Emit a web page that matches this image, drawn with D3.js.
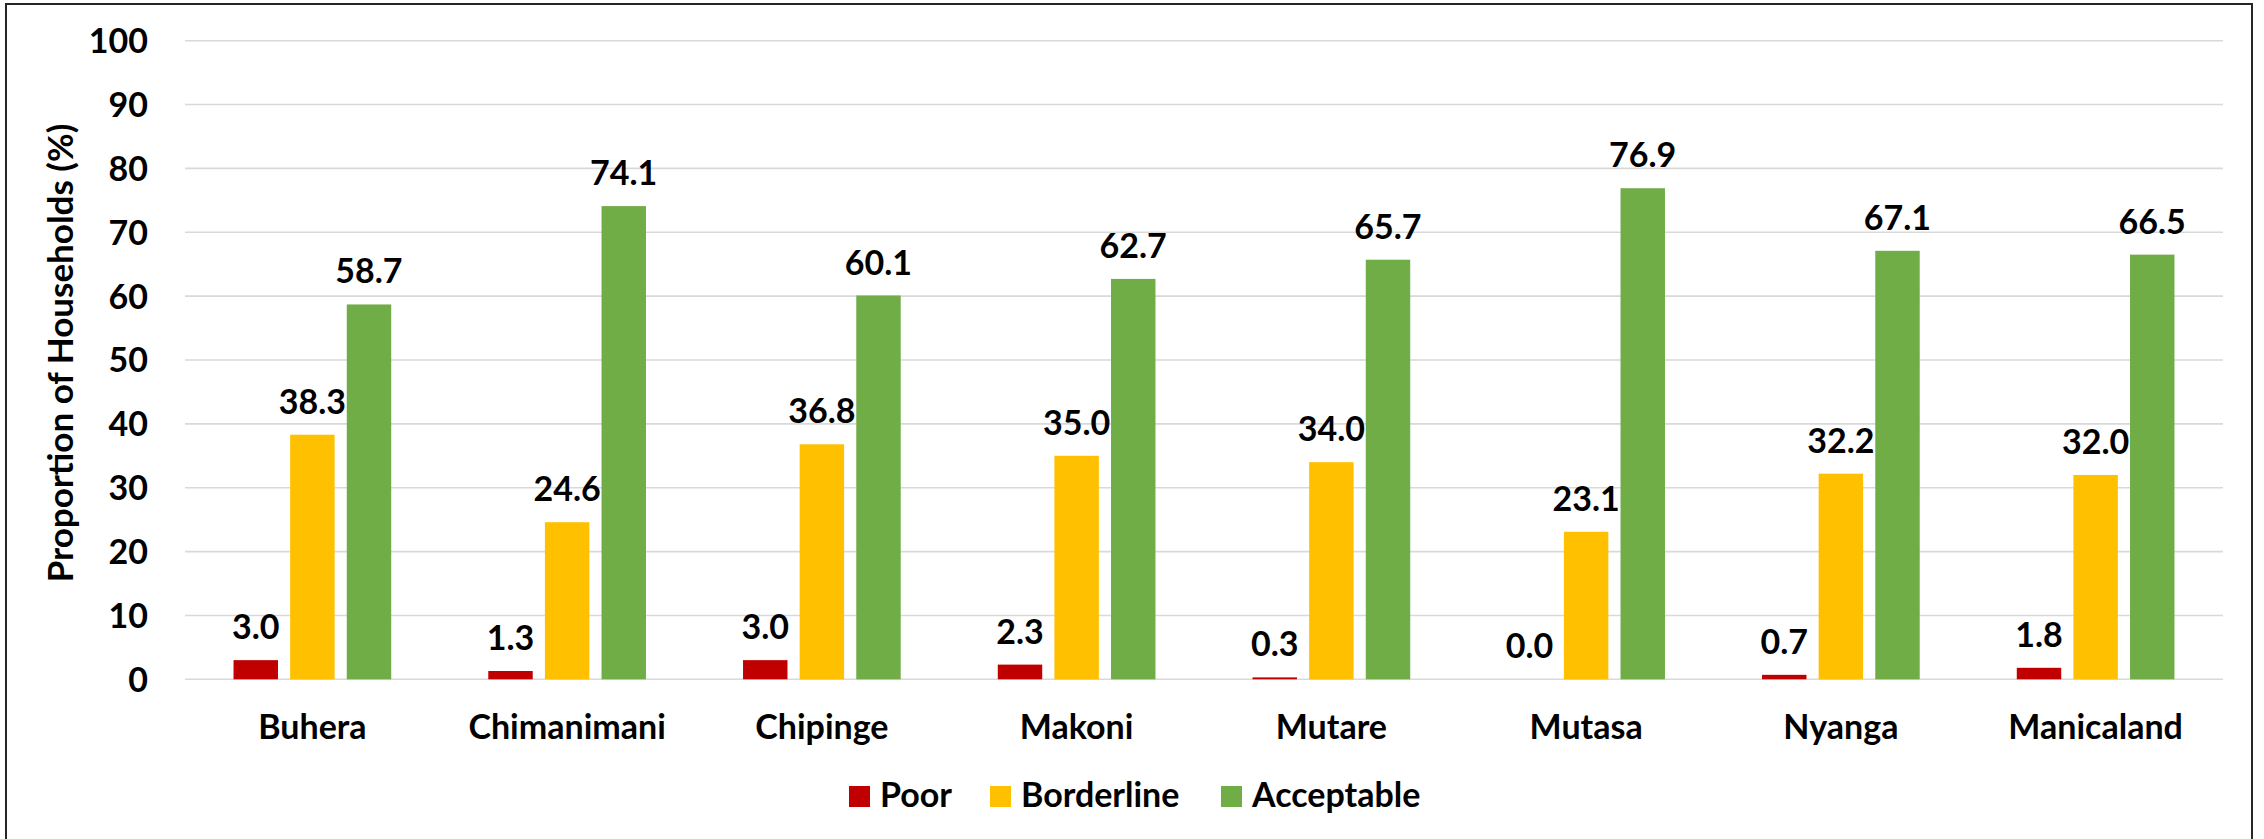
<!DOCTYPE html>
<html>
<head>
<meta charset="utf-8">
<script src="https://cdn.jsdelivr.net/npm/d3@7"></script>
<style>
  html, body { margin: 0; padding: 0; background: #fff; }
  svg { display: block; font-family: Lato, "Open Sans", sans-serif; font-weight: 700; }
</style>
</head>
<body>
<svg id="chart" width="2264" height="839"></svg>
<script>
// Food consumption groups by district
const districts = ["Buhera", "Chimanimani", "Chipinge", "Makoni", "Mutare", "Mutasa", "Nyanga", "Manicaland"];
const seriesNames = ["Poor", "Borderline", "Acceptable"];
const poor       = [3.0, 1.3, 3.0, 2.3, 0.3, 0.0, 0.7, 1.8];
const borderline = [38.3, 24.6, 36.8, 35.0, 34.0, 23.1, 32.2, 32.0];
const acceptable = [58.7, 74.1, 60.1, 62.7, 65.7, 76.9, 67.1, 66.5];
const yTicks = [0, 10, 20, 30, 40, 50, 60, 70, 80, 90, 100];
const colors = ["#C00000", "#FFC000", "#70AD47"];

const seriesValues = [poor, borderline, acceptable];
const FONT = 34;

const svg = d3.select("#chart");

// outer frame (bottom edge falls outside the canvas)
svg.append("rect")
  .attr("x", 6).attr("y", 4)
  .attr("width", 2246).attr("height", 900)
  .attr("fill", "none")
  .attr("stroke", "#262626")
  .attr("stroke-width", 2);

const plot = { left: 185, right: 2223, top: 40.7, bottom: 679.3 };

const y = d3.scaleLinear().domain([0, 100]).range([plot.bottom, plot.top]);

const x0 = d3.scaleBand()
  .domain(districts)
  .range([plot.left, plot.right])
  .paddingInner(0.381)
  .paddingOuter(0.1905);

const x1 = d3.scaleBand()
  .domain(seriesNames)
  .range([0, x0.bandwidth()])
  .paddingInner(0.215)
  .paddingOuter(0);

const color = d3.scaleOrdinal().domain(seriesNames).range(colors);

// horizontal gridlines
svg.append("g")
  .selectAll("line")
  .data(yTicks)
  .join("line")
  .attr("x1", plot.left).attr("x2", plot.right)
  .attr("y1", d => y(d)).attr("y2", d => y(d))
  .attr("stroke", "#D9D9D9")
  .attr("stroke-width", 1.6);

// y axis tick labels
const yAxis = d3.axisLeft(y).tickValues(yTicks).tickSize(0).tickPadding(0);
const yg = svg.append("g")
  .attr("transform", "translate(148,0)")
  .call(yAxis);
yg.select(".domain").remove();
yg.selectAll("text")
  .attr("font-family", "Lato, 'Open Sans', sans-serif")
  .attr("font-weight", 700)
  .attr("font-size", FONT)
  .attr("fill", "#000")
  .attr("dy", "0.35em");

// y axis title
svg.append("text")
  .attr("transform", "translate(73,353) rotate(-90)")
  .attr("text-anchor", "middle")
  .attr("font-size", 35)
  .attr("fill", "#000")
  .text("Proportion of Households (%)");

// x axis category labels
const xAxis = d3.axisBottom(x0).tickSize(0).tickPadding(0);
const xg = svg.append("g")
  .attr("transform", "translate(0,739)")
  .call(xAxis);
xg.select(".domain").remove();
xg.selectAll("text")
  .attr("font-family", "Lato, 'Open Sans', sans-serif")
  .attr("font-weight", 700)
  .attr("font-size", FONT)
  .attr("fill", "#000")
  .attr("dy", 0)
  .attr("y", 0);

// bars and value labels
const rows = districts.map((d, i) => ({
  district: d,
  values: seriesNames.map((s, k) => ({ series: s, value: seriesValues[k][i] }))
}));

const groups = svg.append("g")
  .selectAll("g")
  .data(rows)
  .join("g")
  .attr("transform", d => `translate(${x0(d.district)},0)`);

groups.selectAll("rect")
  .data(d => d.values)
  .join("rect")
  .attr("x", d => x1(d.series))
  .attr("width", x1.bandwidth())
  .attr("y", d => y(d.value))
  .attr("height", d => y(0) - y(d.value))
  .attr("fill", d => color(d.series));

groups.selectAll("text")
  .data(d => d.values)
  .join("text")
  .attr("x", d => x1(d.series) + x1.bandwidth() / 2)
  .attr("y", d => y(d.value) - 21)
  .attr("text-anchor", "middle")
  .attr("font-size", FONT)
  .attr("fill", "#000")
  .text(d => d.value.toFixed(1));

// legend
const legendItems = [
  { name: "Poor", x: 849 },
  { name: "Borderline", x: 990 },
  { name: "Acceptable", x: 1221 }
];
const legend = svg.append("g");
const li = legend.selectAll("g")
  .data(legendItems)
  .join("g")
  .attr("transform", d => `translate(${d.x},786)`);
li.append("rect")
  .attr("width", 21).attr("height", 21)
  .attr("fill", d => color(d.name));
li.append("text")
  .attr("x", 31).attr("y", 21)
  .attr("font-size", FONT)
  .attr("fill", "#000")
  .text(d => d.name);
</script>
</body>
</html>
